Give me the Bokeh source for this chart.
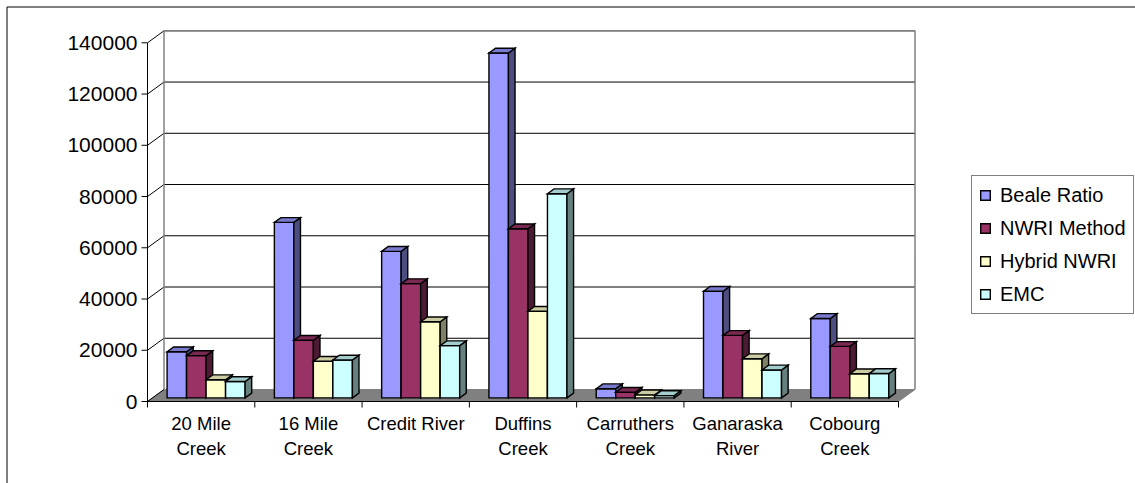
from bokeh.plotting import figure
from bokeh.models import ColumnDataSource, Legend, LegendItem, Range1d
from bokeh.core.properties import value
from bokeh.embed import file_html
from bokeh.resources import INLINE

# ---- data -------------------------------------------------------------
categories = ["20 Mile\nCreek", "16 Mile\nCreek", "Credit River", "Duffins\nCreek",
              "Carruthers\nCreek", "Ganaraska\nRiver", "Cobourg\nCreek"]
series_names = ["Beale Ratio", "NWRI Method", "Hybrid NWRI", "EMC"]
beale_ratio = [18000, 68500, 57200, 134600, 3600, 41600, 31000]
nwri_method = [16500, 22500, 44600, 66000, 2200, 24400, 20100]
hybrid_nwri = [7100, 14300, 29700, 33800, 1200, 15300, 9400]
emc = [6400, 14800, 20400, 79700, 900, 10900, 9500]
y_ticks = [0, 20000, 40000, 60000, 80000, 100000, 120000, 140000]
y_tick_labels = [str(t) for t in y_ticks]

series_values = [beale_ratio, nwri_method, hybrid_nwri, emc]
# front, side, top face colours of each series
face_colors = [
    ("#9999FF", "#4D4D80", "#7A7ACC"),
    ("#993366", "#4D1A33", "#7A2952"),
    ("#FFFFCC", "#808066", "#CCCCA3"),
    ("#CCFFFF", "#668080", "#A3CCCC"),
]

# ---- layout (pixels) ----------------------------------------------------
W, H = 1135, 483
AX_L, AX_R = 147, 898          # front category axis
AX_ZERO, AX_TOP = 401, 42.3    # front value axis: 0 and max
Y_MAX = y_ticks[-1]
N = len(categories)
PX_CAT = (AX_R - AX_L) / N
PX_VAL = (AX_ZERO - AX_TOP) / Y_MAX

x_start, x_end = -AX_L / PX_CAT, (W - AX_L) / PX_CAT
y_start, y_end = -(H - AX_ZERO) / PX_VAL, AX_ZERO / PX_VAL

# oblique depth of the floor, in data units
DX = 16.5 / PX_CAT
DY = 12.0 / PX_VAL
GAP = 1.5                      # gap width, as a multiple of the bar width
BAR_W = 1.0 / (len(series_names) + GAP)
FRONT = 0.3                    # bars sit between 30% and 70% of the depth
DEPTH = 0.4

FONT_NAME = "Liberation Sans"
FONT = value(FONT_NAME)


def px_x(px):
    return x_start + px / PX_CAT


def px_y(px):
    return y_end - px / PX_VAL


p = figure(width=W, height=H, output_backend="svg", toolbar_location=None,
           x_range=Range1d(x_start, x_end), y_range=Range1d(y_start, y_end),
           x_axis_location=None, y_axis_location=None, min_border=0,
           background_fill_color="white", border_fill_color="white")
p.outline_line_color = None
p.grid.visible = False

# chart area border
p.line([px_x(6.5), px_x(6.5), x_end + 1], [y_start - 1000, px_y(6.5), px_y(6.5)],
       line_color="black", line_width=1)

# walls and floor
p.patch([0, DX, DX, 0], [0, DY, Y_MAX + DY, Y_MAX], fill_color="white", line_color=None)
p.quad(left=DX, right=N + DX, bottom=DY, top=Y_MAX + DY, fill_color="white", line_color=None)
p.patch([0, N, N + DX, DX], [0, 0, DY, DY], fill_color="#808080", line_color="#808080",
        line_width=1)

grid_v = y_ticks[1:]
p.segment(x0=[DX] * len(grid_v), y0=[v + DY for v in grid_v],
          x1=[N + DX] * len(grid_v), y1=[v + DY for v in grid_v],
          line_color="black", line_width=1)
p.segment(x0=[0] * len(y_ticks), y0=y_ticks, x1=[DX] * len(y_ticks),
          y1=[v + DY for v in y_ticks], line_color="black", line_width=1)
# back wall border
p.line([DX, DX, N + DX, N + DX], [DY, Y_MAX + DY, Y_MAX + DY, DY],
       line_color="#808080", line_width=1.5)

# axes
p.line([0, 0], [0, Y_MAX], line_color="black", line_width=1)
p.line([0, N], [0, 0], line_color="black", line_width=1)
tick_len_x = 6 / PX_CAT
tick_len_y = 6 / PX_VAL
p.segment(x0=[0] * len(y_ticks), y0=y_ticks, x1=[-tick_len_x] * len(y_ticks), y1=y_ticks,
          line_color="black", line_width=1)
p.segment(x0=list(range(N + 1)), y0=[0] * (N + 1), x1=list(range(N + 1)),
          y1=[-tick_len_y] * (N + 1), line_color="black", line_width=1)

p.text(x=[0] * len(y_ticks), y=y_ticks, text=y_tick_labels, x_offset=-10,
       text_align="right", text_baseline="middle", text_font=FONT,
       text_font_size="21px", text_color="black")
p.text(x=[i + 0.5 for i in range(N)], y=[0] * N, text=categories, y_offset=11,
       text_align="center", text_baseline="top", text_font=FONT,
       text_font_size="18.5px", text_line_height=1.2, text_color="black")

# 3-D bars: one renderer per series, faces listed bar by bar
legend_items = []
for s, (name, vals, cols) in enumerate(zip(series_names, series_values, face_colors)):
    xs, ys, fills = [], [], []
    bx, by = DEPTH * DX, DEPTH * DY
    for i, v in enumerate(vals):
        x0 = i + GAP * BAR_W / 2 + s * BAR_W + FRONT * DX
        x1 = x0 + BAR_W
        yb = FRONT * DY
        yt = v + yb
        xs.append([x0, x1, x1, x0]); ys.append([yb, yb, yt, yt]); fills.append(cols[0])
        xs.append([x1, x1 + bx, x1 + bx, x1]); ys.append([yb, yb + by, yt + by, yt]); fills.append(cols[1])
        xs.append([x0, x1, x1 + bx, x0 + bx]); ys.append([yt, yt, yt + by, yt + by]); fills.append(cols[2])
    src = ColumnDataSource(dict(xs=xs, ys=ys, fill=fills))
    r = p.patches("xs", "ys", source=src, fill_color="fill", line_color="black",
                  line_width=1.4, line_join="miter")
    legend_items.append(LegendItem(label=name, renderers=[r], index=0))

legend = Legend(items=legend_items, location=(971, 169), orientation="vertical",
                label_text_font=FONT_NAME, label_text_font_size="20px",
                label_text_color="black", glyph_width=12, glyph_height=12,
                label_height=24, label_standoff=9, spacing=9, padding=7, margin=0,
                border_line_color="black", border_line_width=1,
                background_fill_color="white", background_fill_alpha=1)
p.add_layout(legend)

open("out.html", "w").write(file_html(p, INLINE))
